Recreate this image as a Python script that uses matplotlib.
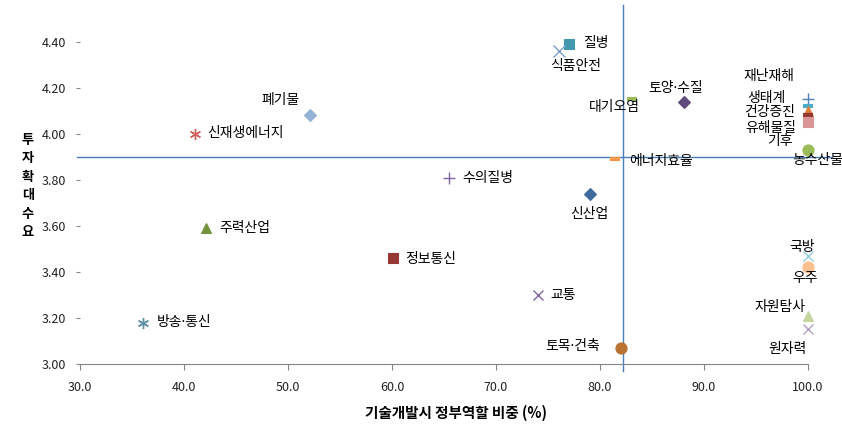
import matplotlib
matplotlib.use("Agg")
import matplotlib.pyplot as plt

plt.rcParams['font.family'] = ['Noto Sans CJK KR', 'DejaVu Sans']

# 분야별 (정부역할 비중 %, 투자확대수요)
names = ['신산업', '정보통신', '주력산업', '교통', '방송·통신', '에너지효율', '폐기물',
         '신재생에너지', '대기오염', '수의질병', '질병', '식품안전', '토양·수질', '토목·건축',
         '재난재해', '생태계', '건강증진', '유해물질', '기후', '농수산물',
         '국방', '우주', '자원탐사', '원자력']
gov_share = [79.0, 60.1, 42.1, 74.0, 36.1, 81.4, 52.1,
             41.1, 83.1, 65.5, 77.0, 76.1, 88.1, 82.0,
             100.0, 100.0, 100.0, 100.0, 100.0, 100.0,
             100.0, 100.0, 100.0, 100.0]
invest = [3.74, 3.46, 3.59, 3.30, 3.18, 3.89, 4.08,
          4.00, 4.15, 3.81, 4.39, 4.36, 4.14, 3.07,
          4.15, 4.12, 4.10, 4.08, 4.05, 3.93,
          3.47, 3.42, 3.21, 3.15]

# marker, colour, size
styles = [('D', '#3F6A9E', 6), ('s', '#953735', 7), ('^', '#76923C', 7), ('x', '#8064A2', 7),
          ((6, 2, 0), '#5B8FA3', 8), ('_', '#F79646', 7), ('D', '#95B3D7', 6),
          ((6, 2, 0), '#D0605C', 8), ('_', '#9BBB59', 7), ('+', '#8064A2', 8),
          ('s', '#4198AF', 7), ('x', '#7F9FCC', 8), ('D', '#604A7B', 6), ('o', '#B9722F', 8),
          ('+', '#4F81BD', 8), ('_', '#4BACC6', 7), ('^', '#E07B39', 7), ('_', '#953735', 7),
          ('s', '#D99694', 7), ('o', '#9BBB59', 8),
          ('x', '#93CDDD', 7), ('o', '#FAC090', 8), ('^', '#C3D69B', 7), ('x', '#B3A2C7', 7)]

# label offsets in pixels (dx, dy, ha)
offsets = [(0, -20, 'center'), (12, -1, 'left'), (13, 0, 'left'), (13, 0, 'left'),
           (13, 0, 'left'), (15, -2, 'left'), (-29, 15, 'center'),
           (12, 1, 'left'), (-18, -8, 'center'), (13, 0, 'left'), (14, 1, 'left'),
           (16, -15, 'center'), (-9, 13, 'center'), (-21, 1, 'right'),
           (-39, 23, 'center'), (-42, 8, 'center'), (-38, -1, 'center'), (-37, -13, 'center'),
           (-28, -19, 'center'), (10, -10, 'center'),
           (-6, 9, 'center'), (-3, -11, 'center'), (-28, 9, 'center'), (-21, -20, 'center')]

fig = plt.figure(figsize=(8.42, 4.42), dpi=100)
ax = fig.add_axes([80/842, 78/442, 752/842, 359/442])

# 기준선
ax.plot([29.7, 102.3], [3.9, 3.9], color='#4A7EBB', lw=1, clip_on=False, zorder=1)
ax.plot([82.2, 82.2], [2.97, 4.56], color='#4A7EBB', lw=1, clip_on=False, zorder=1)

for i in range(len(names)):
    m, c, s = styles[i]
    if m == '_':
        mew = 3
    elif m in ('x', '+') or isinstance(m, tuple):
        mew = 1
    else:
        mew = 0.8
    ax.plot(gov_share[i], invest[i], linestyle='none', marker=m, color=c,
            markersize=s, markeredgewidth=mew, clip_on=False, zorder=3)
    dx, dy, ha = offsets[i]
    fam = ['Noto Sans', 'Noto Sans CJK KR'] if '·' in names[i] else ['Noto Sans CJK KR', 'DejaVu Sans']
    ax.annotate(names[i], (gov_share[i], invest[i]), xytext=(dx, dy),
                textcoords='offset pixels', ha=ha, va='center', fontsize=10,
                family=fam, zorder=4)

ax.set_xlim(30, 102.3)
ax.set_ylim(3.0, 4.56)
ax.set_xticks([30, 40, 50, 60, 70, 80, 90, 100])
ax.set_xticklabels(['%.1f' % v for v in [30, 40, 50, 60, 70, 80, 90, 100]])
ax.set_yticks([3.0, 3.2, 3.4, 3.6, 3.8, 4.0, 4.2, 4.4])
ax.set_yticklabels(['%.2f' % v for v in [3.0, 3.2, 3.4, 3.6, 3.8, 4.0, 4.2, 4.4]])

for sp in ['top', 'right', 'left']:
    ax.spines[sp].set_visible(False)
ax.spines['bottom'].set_bounds(30, 100)
ax.spines['bottom'].set_color('#868686')
ax.tick_params(axis='both', colors='#868686', labelcolor='#222222', labelsize=9, length=4)
ax.tick_params(axis='x', pad=8)
ax.tick_params(axis='y', pad=7, length=3)

ax.set_xlabel('기술개발시 정부역할 비중 (%)', fontsize=10.5, fontweight='bold', labelpad=8)
fig.text(28/842, 1 - 186/442, '\n'.join('투자확대수요'), fontsize=9.5, fontweight='bold',
         ha='center', va='center', linespacing=1.4)

fig.savefig('out.png', dpi=100)
